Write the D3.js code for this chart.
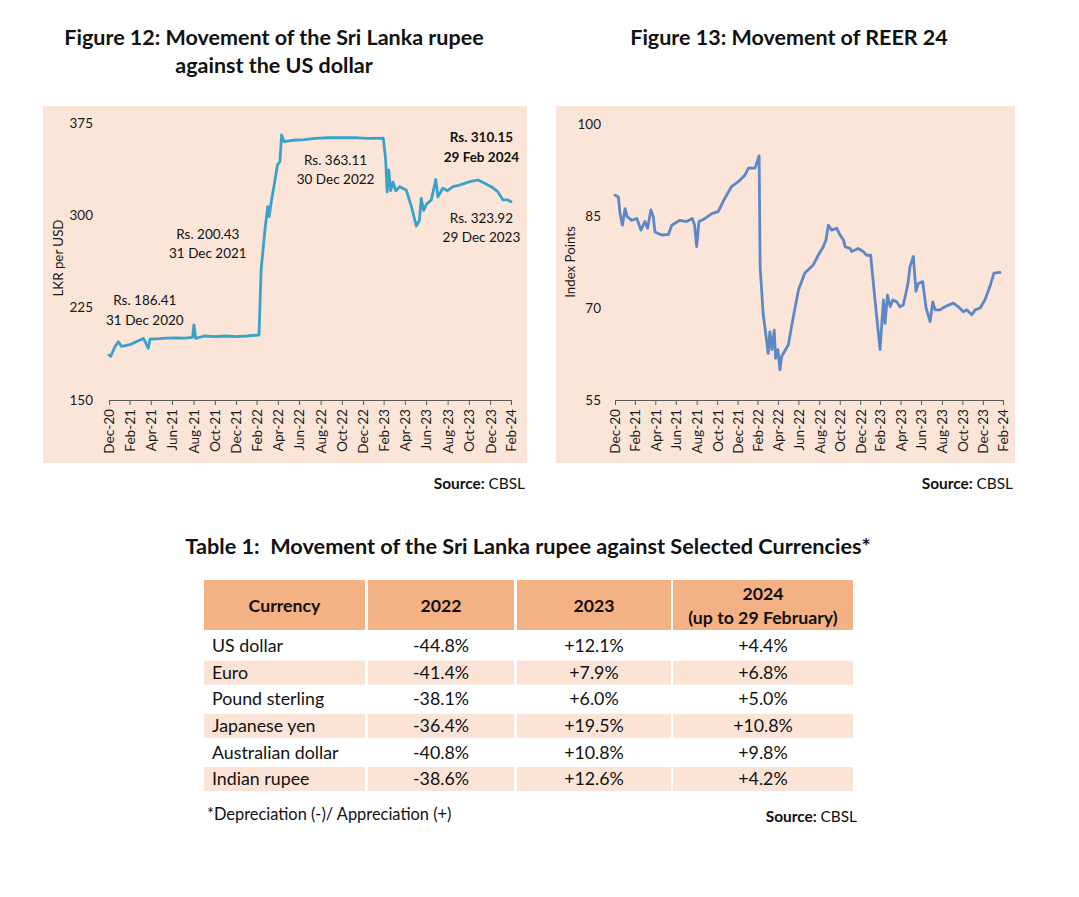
<!DOCTYPE html>
<html>
<head>
<meta charset="utf-8">
<script src="https://cdn.jsdelivr.net/npm/d3@7"></script>
<style>
  html, body { margin: 0; padding: 0; background: #fff; }
  svg { display: block; font-family: Lato, "Open Sans", sans-serif; }
</style>
</head>
<body>
<svg id="chart" width="1079" height="897"></svg>
<script>
// ---------------- DATA ----------------
const tickLabels = ["Dec-20","Feb-21","Apr-21","Jun-21","Aug-21","Oct-21","Dec-21","Feb-22","Apr-22","Jun-22","Aug-22","Oct-22","Dec-22","Feb-23","Apr-23","Jun-23","Aug-23","Oct-23","Dec-23","Feb-24"];

const usdDates = ["2020-12-31","2021-01-05","2021-01-17","2021-01-27","2021-02-05","2021-03-01","2021-04-09","2021-04-23","2021-04-28","2021-05-26","2021-06-15","2021-07-10","2021-08-05","2021-08-28","2021-09-01","2021-09-06","2021-10-01","2021-11-01","2021-12-01","2022-01-01","2022-02-01","2022-03-07","2022-03-13","2022-03-24","2022-04-01","2022-04-05","2022-04-12","2022-04-22","2022-04-29","2022-05-06","2022-05-11","2022-05-18","2022-06-15","2022-07-15","2022-08-15","2022-09-15","2022-10-15","2022-11-15","2022-12-15","2023-01-15","2023-02-15","2023-02-27","2023-03-06","2023-03-10","2023-03-15","2023-03-20","2023-03-27","2023-04-04","2023-04-15","2023-05-04","2023-05-19","2023-06-02","2023-06-11","2023-06-16","2023-06-23","2023-07-01","2023-07-15","2023-07-28","2023-08-03","2023-08-17","2023-08-31","2023-09-15","2023-10-04","2023-11-02","2023-11-26","2023-12-15","2024-01-03","2024-01-22","2024-02-06","2024-02-20","2024-02-29"];
const usdValues = [186.4,185.5,193.3,197.4,193.5,195.0,200.0,192.0,199.5,199.8,200.2,200.5,200.3,200.8,211.0,200.0,202.0,201.5,202.0,201.5,202.0,202.8,255.6,288.0,307.0,299.0,312.5,328.7,340.9,343.6,365.3,359.9,361.0,361.5,362.5,363.0,363.0,363.0,363.0,362.5,362.5,362.6,345.0,319.0,336.8,320.0,327.0,320.0,323.3,320.6,307.0,291.3,296.0,313.8,304.0,309.0,312.5,329.2,315.0,322.0,320.0,323.3,324.6,327.3,328.7,326.0,323.3,319.2,312.5,312.5,311.0];

const reerDates = ["2020-12-31","2021-01-10","2021-01-15","2021-01-22","2021-01-30","2021-02-05","2021-02-19","2021-03-06","2021-03-18","2021-03-30","2021-04-07","2021-04-17","2021-04-24","2021-04-29","2021-05-19","2021-06-08","2021-06-18","2021-07-12","2021-08-01","2021-08-18","2021-08-25","2021-08-31","2021-09-07","2021-09-25","2021-10-15","2021-11-03","2021-11-23","2021-12-13","2022-01-02","2022-01-22","2022-02-01","2022-02-21","2022-03-05","2022-03-08","2022-03-17","2022-03-27","2022-04-01","2022-04-06","2022-04-12","2022-04-19","2022-04-23","2022-04-30","2022-05-06","2022-05-11","2022-05-31","2022-06-15","2022-06-30","2022-07-19","2022-08-13","2022-08-28","2022-09-12","2022-09-20","2022-09-27","2022-10-07","2022-10-22","2022-11-01","2022-11-11","2022-11-16","2022-12-01","2022-12-06","2022-12-25","2023-01-09","2023-01-19","2023-01-31","2023-02-13","2023-02-28","2023-03-10","2023-03-15","2023-03-22","2023-03-30","2023-04-07","2023-04-19","2023-04-28","2023-05-08","2023-05-16","2023-05-23","2023-05-28","2023-06-07","2023-06-15","2023-06-22","2023-07-05","2023-07-15","2023-07-27","2023-08-04","2023-08-11","2023-08-25","2023-09-09","2023-10-04","2023-10-19","2023-11-03","2023-11-13","2023-11-28","2023-12-08","2023-12-23","2024-01-06","2024-01-21","2024-02-02","2024-02-20"];
const reerValues = [88.4,88.1,85.4,83.5,86.2,84.9,84.3,84.6,82.7,84.1,83.0,86.0,84.9,82.4,81.9,82.0,83.5,84.3,84.1,84.6,83.5,80.0,84.1,84.6,85.4,85.7,87.9,89.8,90.6,91.7,92.8,92.8,94.8,76.7,69.1,64.8,62.6,66.1,63.2,66.4,61.8,63.2,59.9,62.1,64.0,68.6,72.9,75.7,77.0,78.6,80.0,81.1,83.5,82.7,83.0,81.9,81.1,80.0,79.7,79.2,79.7,79.2,78.6,78.6,71.3,63.2,71.3,67.5,72.1,70.2,71.3,71.0,70.2,70.5,72.4,74.3,76.7,78.4,72.7,74.0,74.3,70.0,67.8,71.0,69.7,69.7,70.2,70.8,70.2,69.4,69.7,68.9,69.7,70.0,71.3,73.5,75.7,75.8];

const usdTicks = [150, 225, 300, 375];
const reerTicks = [55, 70, 85, 100];

const tableHeaders = [["Currency"], ["2022"], ["2023"], ["2024", "(up to 29 February)"]];
const currencies = ["US dollar","Euro","Pound sterling","Japanese yen","Australian dollar","Indian rupee"];
const chg2022 = ["-44.8%","-41.4%","-38.1%","-36.4%","-40.8%","-38.6%"];
const chg2023 = ["+12.1%","+7.9%","+6.0%","+19.5%","+10.8%","+12.6%"];
const chg2024 = ["+4.4%","+6.8%","+5.0%","+10.8%","+9.8%","+4.2%"];

// ---------------- DRAW ----------------
const svg = d3.select("#chart");
svg.append("rect").attr("width",1079).attr("height",897).attr("fill","#fff");
const parseD = d3.utcParse("%Y-%m-%d");
const parseTick = d3.utcParse("%b-%y");
const tickDates = tickLabels.map(l => d3.utcDay.offset(d3.utcMonth.offset(parseTick(l), 1), -1));
const domainX = [tickDates[0], tickDates[tickDates.length-1]];
const PANEL = "#FAE5D8", TXT = "#1a1a1a";

function drawFigure(cfg) {
  const g = svg.append("g");
  g.append("rect").attr("x", cfg.panel[0]).attr("y", cfg.panel[1])
    .attr("width", cfg.panel[2]).attr("height", cfg.panel[3]).attr("fill", PANEL);
  const x = d3.scaleUtc().domain(domainX).range(cfg.xr);
  const y = d3.scaleLinear().domain(cfg.yd).range(cfg.yr);
  // x axis
  const xa = g.append("g").attr("transform", `translate(0,${cfg.yr[0]})`)
    .call(d3.axisBottom(x).tickValues(tickDates).tickSize(5).tickSizeOuter(0)
      .tickFormat((d, i) => tickLabels[i]));
  xa.select(".domain").attr("stroke", "#5a5a5a");
  xa.selectAll(".tick line").attr("stroke", "#5a5a5a");
  xa.selectAll("text").attr("transform", "rotate(-90)").attr("text-anchor", "end")
    .attr("x", -9).attr("y", 0).attr("dy", "0.36em")
    .attr("font-size", 13.6).attr("fill", TXT).attr("font-family", "Lato");
  // y axis
  const ya = g.append("g").attr("transform", `translate(${cfg.xr[0] - cfg.ypad},0)`)
    .call(d3.axisLeft(y).tickValues(cfg.yticks).tickSize(0));
  ya.select(".domain").remove();
  ya.selectAll("text").attr("font-size", 13.5).attr("fill", TXT).attr("font-family", "Lato").attr("x", 0);
  // y title
  g.append("text").attr("transform", `translate(${cfg.ytitle[0]},${cfg.ytitle[1]}) rotate(-90)`)
    .attr("text-anchor", "middle").attr("dy", "0.35em").attr("font-size", 13.3).attr("fill", TXT)
    .text(cfg.ytitleText);
  // line
  const data = cfg.dates.map((d, i) => ({date: parseD(d), v: cfg.values[i]}));
  g.append("path").datum(data).attr("fill", "none").attr("stroke", cfg.color)
    .attr("stroke-width", 2.8).attr("stroke-linejoin", "round").attr("stroke-linecap", "round")
    .attr("d", d3.line().x(d => x(d.date)).y(d => y(d.v)));
  // title
  cfg.title.forEach((t, i) => {
    g.append("text").attr("x", cfg.titleX).attr("y", 45 + i * 28).attr("text-anchor", "middle")
      .attr("font-weight", 700).attr("font-size", 21.5).attr("fill", "#111").text(t);
  });
  // source
  const s = g.append("text").attr("x", cfg.panel[0] + cfg.panel[2] - 2).attr("y", 489)
    .attr("text-anchor", "end").attr("font-size", 15.4).attr("fill", "#111");
  s.append("tspan").attr("font-weight", 700).text("Source: ");
  s.append("tspan").text("CBSL");
  return {g, x, y};
}

const f12 = drawFigure({
  panel: [43, 106, 484, 357], xr: [109, 511], yr: [400, 123], yd: [150, 375], yticks: usdTicks, ypad: 16,
  ytitle: [58, 258], ytitleText: "LKR per USD", dates: usdDates, values: usdValues, color: "#3AA2C8",
  title: ["Figure 12: Movement of the Sri Lanka rupee", "against the US dollar"], titleX: 274
});
const f13 = drawFigure({
  panel: [556, 106, 459, 357], xr: [615, 1003], yr: [400, 124], yd: [55, 100], yticks: reerTicks, ypad: 14,
  ytitle: [570, 262], ytitleText: "Index Points", dates: reerDates, values: reerValues, color: "#5E87C8",
  title: ["Figure 13: Movement of REER 24"], titleX: 789
});

// annotations on Figure 12 (anchored in data space)
const notes = [
  {lines: ["Rs. 186.41", "31 Dec 2020"], date: "2021-04-13", v: 231, bold: false},
  {lines: ["Rs. 200.43", "31 Dec 2021"], date: "2021-10-11", v: 285, bold: false},
  {lines: ["Rs. 363.11", "30 Dec 2022"], date: "2022-10-13", v: 345, bold: false},
  {lines: ["Rs. 310.15", "29 Feb 2024"], date: "2023-12-06", v: 363, bold: true},
  {lines: ["Rs. 323.92", "29 Dec 2023"], date: "2023-12-06", v: 298, bold: false}
];
notes.forEach(n => {
  const cx = f12.x(parseD(n.date)), cy = f12.y(n.v);
  n.lines.forEach((l, i) => {
    f12.g.append("text").attr("x", cx).attr("y", cy + i * 19.5).attr("text-anchor", "middle")
      .attr("dy", "0.35em").attr("font-size", 13.5).attr("font-weight", n.bold ? 700 : 400)
      .attr("fill", "#111").text(l);
  });
});

// ---------------- TABLE ----------------
const tg = svg.append("g");
tg.append("text").attr("x", 528).attr("y", 554).attr("text-anchor", "middle").attr("font-weight", 700)
  .attr("font-size", 21.7).attr("fill", "#111").attr("xml:space", "preserve")
  .text("Table 1:  Movement of the Sri Lanka rupee against Selected Currencies*");
const cols = [[204, 365], [368, 514], [517, 671], [673, 853]];
const HEAD = "#F4B183", BAND = "#FBE4D6";
cols.forEach((c, j) => {
  tg.append("rect").attr("x", c[0]).attr("y", 580).attr("width", c[1] - c[0]).attr("height", 50).attr("fill", HEAD);
  const lines = tableHeaders[j];
  lines.forEach((l, k) => {
    const yy = lines.length === 1 ? 606 : 594 + k * 24;
    tg.append("text").attr("x", (c[0] + c[1]) / 2).attr("y", yy).attr("dy", "0.35em").attr("text-anchor", "middle")
      .attr("font-weight", 700).attr("font-size", 17.7).attr("fill", "#111").text(l);
  });
});
const rowY = d3.scaleLinear().domain([0, 1]).range([646, 672.6]);
currencies.forEach((cur, i) => {
  const cy = rowY(i);
  if (i % 2 === 1) {
    cols.forEach(c => tg.append("rect").attr("x", c[0]).attr("y", cy - 12).attr("width", c[1] - c[0]).attr("height", 24).attr("fill", BAND));
  }
  const vals = [cur, chg2022[i], chg2023[i], chg2024[i]];
  vals.forEach((v, j) => {
    tg.append("text").attr("x", j === 0 ? cols[0][0] + 8 : (cols[j][0] + cols[j][1]) / 2).attr("y", cy)
      .attr("dy", "0.35em").attr("text-anchor", j === 0 ? "start" : "middle")
      .attr("font-size", 17.8).attr("fill", "#111").text(v);
  });
});
tg.append("text").attr("x", 207).attr("y", 814).attr("dy", "0.35em").attr("font-size", 16.4).attr("fill", "#111")
  .text("*Depreciation (-)/ Appreciation (+)");
const ts = tg.append("text").attr("x", 857).attr("y", 817).attr("dy", "0.35em").attr("text-anchor", "end")
  .attr("font-size", 15.4).attr("fill", "#111");
ts.append("tspan").attr("font-weight", 700).text("Source: ");
ts.append("tspan").text("CBSL");
</script>
</body>
</html>
